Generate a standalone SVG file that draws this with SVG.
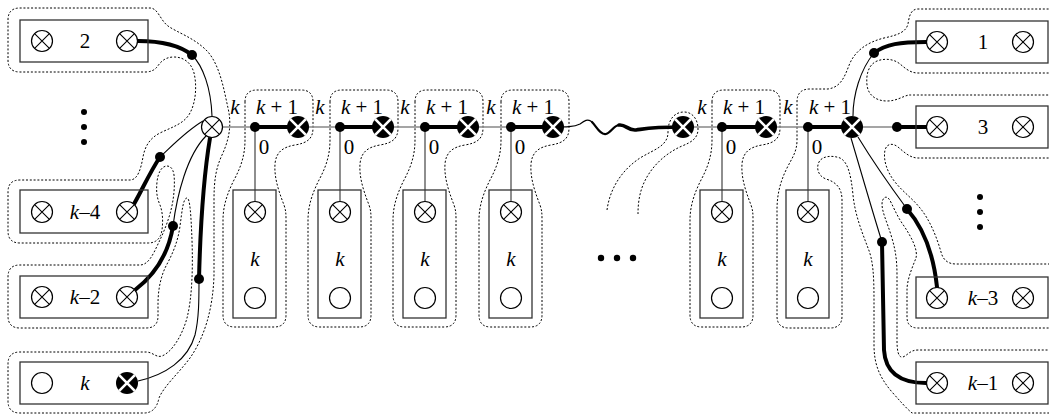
<svg xmlns="http://www.w3.org/2000/svg" xmlns:xlink="http://www.w3.org/1999/xlink" width="1049" height="414" viewBox="0 0 1049 414">
  <style>
    .box{fill:none;stroke:#333;stroke-width:1.3}
    .thin{fill:none;stroke:#000;stroke-width:1.1}
    .thick{fill:none;stroke:#000;stroke-width:4;stroke-linecap:round}
    .gray{fill:none;stroke:#888;stroke-width:1.5}
    .vert{fill:none;stroke:#444;stroke-width:1.2}
    .out{fill:none;stroke:#000;stroke-width:1;stroke-dasharray:2 1.8}
    .dot{fill:#000}
    text{font-family:"Liberation Serif","Times New Roman",serif;font-size:21px;text-anchor:middle;fill:#000}
    .i{font-style:italic}
  </style>
  <defs>
    <g id="ot"><circle r="10.5" fill="#fff" stroke="#000" stroke-width="1.2"/><path d="M-7.4,-7.4L7.4,7.4M7.4,-7.4L-7.4,7.4" stroke="#000" stroke-width="1.1"/></g>
    <g id="bx"><circle r="11" fill="#000"/><path d="M-7.8,-7.8L7.8,7.8M7.8,-7.8L-7.8,7.8" stroke="#fff" stroke-width="2.6"/></g>
    <g id="oc"><circle r="10.5" fill="#fff" stroke="#000" stroke-width="1.2"/></g>
    <path id="unitOut" d="M-10,102 Q-10,90 2,90 H46 Q58,90 58,102 V128 C58,139 52,143 40,145 C28,147 21,152 20,164 C19,178 24,192 29,205 C31,211 31,214 31,220 V315 Q31,327 19,327 H-20 Q-32,327 -32,315 V220 C-32,205 -27,192 -21,180 C-14,167 -10,155 -10,140 Z"/>
  </defs>
  <rect width="1049" height="414" fill="#fff"/>

  <!-- dotted gadget boundaries -->
  <g id="outlines" class="out">
    <path d="M8,20 Q8,8 20,8 H150 C158,8 160,20 168,26 C178,33 195,38 208,52 C220,66 224,90 228,108 C232,125 229,140 222,155 C216,168 214,180 214,200 L214,275 C213,310 204,338 190,358 C178,374 164,386 159,398 Q156,413 144,413 H20 Q8,413 8,401 V364 Q8,352 20,352 H146 C153,352 156,358 162,356 C172,352 182,336 187,318 C192,298 193,270 192,240 C191,215 190,198 187,198 C183,198 182,212 180,226 C178,242 172,255 166,266 C160,278 158,292 158,304 V316 Q158,328 146,328 H20 Q8,328 8,316 V277 Q8,265 20,265 H140 C148,265 153,255 158,244 C163,234 168,222 171,210 C174,198 175,185 174,175 C173,168 170,166 167,166 C162,166 158,172 157,182 C156,192 157,198 160,205 C163,213 163,222 162,230 Q160,243 148,243 H20 Q8,243 8,231 V192 Q8,180 20,180 H130 C138,180 141,168 143,157 C145,146 150,138 160,133 C172,127 184,124 190,113 C196,102 197,85 194,73 C191,62 183,57 174,57 C164,57 160,63 157,67 Q153,72 145,72 H20 Q8,72 8,60 Z"/>
    <use xlink:href="#unitOut" x="255" y="0"/>
    <use xlink:href="#unitOut" x="340" y="0"/>
    <use xlink:href="#unitOut" x="425" y="0"/>
    <use xlink:href="#unitOut" x="511" y="0"/>
    <use xlink:href="#unitOut" x="722" y="0"/>
    <path d="M607,210 C610,188 622,170 640,158 C655,149 668,146 668,132 C668,119 675,112 684,112 C693,112 698,120 698,129 C698,138 692,142 682,146 C664,154 650,168 643,185 C639,195 638,205 638,214"/>
    <path d="M1060,9 H918 C910,9 909,18 908,24 C906,32 898,35 884,38 C868,42 856,50 850,63 C845,75 842,87 828,89 H810 Q797,89 797,102 V140 C797,152 792,158 787,168 C780,182 777,195 777,210 V316 Q777,328 789,328 H830 Q842,328 842,316 V200 C842,188 836,182 826,179 C818,176 816,168 819,162 C822,156 832,155 840,158 C848,162 851,175 853,195 C855,215 862,232 868,248 C873,260 874,275 874,300 V345 C874,365 880,378 892,392 C900,401 906,408 912,413 H1060"/>
    <path d="M1060,73 H918 C910,73 905,68 900,64 C894,59 885,58 877,61 C868,65 866,75 867,85 C868,95 876,101 887,101 C897,101 903,96 909,95 Q912,95 918,95 H1060"/>
    <path d="M1060,158 H918 C910,158 904,152 898,147 C893,143 887,143 885,150 C883,160 887,172 895,182 C903,192 912,198 920,208 C930,220 937,238 941,252 C943,260 948,264 956,264 H1060"/>
    <path d="M1060,328 H918 Q907,328 907,317 V290 C907,280 912,268 916,258 C918,250 912,238 904,226 C896,215 892,203 889,199 C886,195 882,198 882,204 C882,212 887,222 891,235 C895,248 897,258 897,275 V340 C897,350 898,358 903,357 C908,355 910,350 918,350 H1060"/>
  </g>

  <!-- connectors -->
  <g id="connectors">
    <path class="gray" d="M212,127 H255 M298,127 H340 M383,127 H425 M468,127 H511 M683,127 H722 M766,127 H808 M852,127 H897"/>
    <path class="vert" d="M255,127 V201 M340,127 V201 M425,127 V201 M511,127 V201 M722,127 V201 M808,127 V201"/>
    <path class="thick" d="M255,127 H298 M340,127 H383 M425,127 H468 M511,127 H553 M722,127 H766 M808,127 H852 M897,127 H926"/>
    <!-- wavy continuation of the chain -->
    <path class="thin" stroke-width="1.2" d="M553,127 C566,127 574,127 580,124 C584,121 588,118 592,122"/>
    <path fill="none" stroke="#000" stroke-width="2.2" stroke-linecap="round" d="M592,122 C597,127 600,135 606,134 C611,133 613,126 619,125"/>
    <path fill="none" stroke="#000" stroke-width="3.6" stroke-linecap="round" d="M619,125 C626,124 628,131 636,130 C644,129 650,127 683,127"/>
    <!-- left star -->
    <path class="thick" d="M138,41 C158,41 178,44 192,55"/>
    <path class="thin" d="M192,55 C203,66 211,88 212,116"/>
    <path class="thick" d="M134,204 C142,190 150,172 160,157"/>
    <path class="thin" d="M160,157 C172,146 186,131 203,121"/>
    <path class="thick" d="M135,290 C152,277 168,257 173,226"/>
    <path class="thin" d="M173,226 C177,195 187,155 206,136"/>
    <path class="thin" d="M138,381 C165,375 188,360 195,335 C199,318 199,300 199,279"/>
    <path class="thick" d="M199,279 C200,240 203,180 210,138"/>
    <!-- right star -->
    <path class="thin" d="M853,116 C853,95 860,70 874,53"/>
    <path class="thick" d="M874,53 C886,44 900,42 926,42"/>
    <path class="thin" d="M858,137 C872,160 893,190 907,209"/>
    <path class="thick" d="M907,209 C922,226 933,250 937,287"/>
    <path class="thin" d="M851,138 C862,175 872,210 882,242"/>
    <path class="thick" d="M882,242 L884,350 Q886,383 926,383"/>
  </g>

  <!-- junction dots -->
  <g id="junctions" class="dot">
    <circle cx="192" cy="55" r="5"/><circle cx="160" cy="157" r="5"/><circle cx="173" cy="226" r="5"/><circle cx="199" cy="279" r="5"/>
    <circle cx="255" cy="127" r="5"/><circle cx="340" cy="127" r="5"/><circle cx="425" cy="127" r="5"/><circle cx="511" cy="127" r="5"/><circle cx="722" cy="127" r="5"/><circle cx="808" cy="127" r="5"/>
    <circle cx="897" cy="127" r="5"/><circle cx="874" cy="53" r="5"/><circle cx="907" cy="209" r="5"/><circle cx="882" cy="242" r="5"/>
  </g>

  <!-- hubs and chain crossings -->
  <g id="hub-left"><use xlink:href="#ot" x="212" y="127"/></g>
  <g id="chain">
    <use xlink:href="#bx" x="298" y="127"/><use xlink:href="#bx" x="383" y="127"/><use xlink:href="#bx" x="468" y="127"/><use xlink:href="#bx" x="553" y="127"/>
    <use xlink:href="#bx" x="683" y="127"/><use xlink:href="#bx" x="766" y="127"/>
  </g>
  <g id="hub-right"><use xlink:href="#bx" x="852" y="127"/></g>

  <!-- chain labels -->
  <g id="chain-labels" font-family="Liberation Serif, serif">
    <text class="i" x="235" y="114">k</text><text x="277" y="114"><tspan class="i">k</tspan> + 1</text><text x="264" y="154">0</text>
    <text class="i" x="320" y="114">k</text><text x="362" y="114"><tspan class="i">k</tspan> + 1</text><text x="349" y="154">0</text>
    <text class="i" x="405" y="114">k</text><text x="447" y="114"><tspan class="i">k</tspan> + 1</text><text x="434" y="154">0</text>
    <text class="i" x="491" y="114">k</text><text x="533" y="114"><tspan class="i">k</tspan> + 1</text><text x="520" y="154">0</text>
    <text class="i" x="702" y="114">k</text><text x="744" y="114"><tspan class="i">k</tspan> + 1</text><text x="731" y="154">0</text>
    <text class="i" x="788" y="114">k</text><text x="830" y="114"><tspan class="i">k</tspan> + 1</text><text x="817" y="154">0</text>
  </g>

  <!-- vertical unit boxes -->
  <g id="unit-1"><rect class="box" x="233" y="190" width="43" height="128"/><use xlink:href="#ot" x="255" y="212"/><text class="i" x="255" y="266">k</text><use xlink:href="#oc" x="255" y="298"/></g>
  <g id="unit-2"><rect class="box" x="318" y="190" width="43" height="128"/><use xlink:href="#ot" x="340" y="212"/><text class="i" x="340" y="266">k</text><use xlink:href="#oc" x="340" y="298"/></g>
  <g id="unit-3"><rect class="box" x="403" y="190" width="43" height="128"/><use xlink:href="#ot" x="425" y="212"/><text class="i" x="425" y="266">k</text><use xlink:href="#oc" x="425" y="298"/></g>
  <g id="unit-4"><rect class="box" x="489" y="190" width="43" height="128"/><use xlink:href="#ot" x="511" y="212"/><text class="i" x="511" y="266">k</text><use xlink:href="#oc" x="511" y="298"/></g>
  <g id="unit-5"><rect class="box" x="700" y="190" width="43" height="128"/><use xlink:href="#ot" x="722" y="212"/><text class="i" x="722" y="266">k</text><use xlink:href="#oc" x="722" y="298"/></g>
  <g id="unit-6"><rect class="box" x="786" y="190" width="43" height="128"/><use xlink:href="#ot" x="808" y="212"/><text class="i" x="808" y="266">k</text><use xlink:href="#oc" x="808" y="298"/></g>

  <!-- left boxes -->
  <g id="box-2"><rect class="box" x="20" y="20" width="128" height="42"/><use xlink:href="#ot" x="42" y="41"/><text x="85" y="48">2</text><use xlink:href="#ot" x="127" y="41"/></g>
  <g id="box-k4"><rect class="box" x="20" y="190" width="128" height="43"/><use xlink:href="#ot" x="42" y="212"/><text x="85" y="219"><tspan class="i">k</tspan>–4</text><use xlink:href="#ot" x="127" y="212"/></g>
  <g id="box-k2"><rect class="box" x="20" y="276" width="128" height="42"/><use xlink:href="#ot" x="42" y="297"/><text x="85" y="304"><tspan class="i">k</tspan>–2</text><use xlink:href="#ot" x="127" y="297"/></g>
  <g id="box-k"><rect class="box" x="20" y="362" width="128" height="42"/><use xlink:href="#oc" x="42" y="383"/><text class="i" x="85" y="390">k</text><use xlink:href="#bx" x="127" y="383"/></g>

  <!-- right boxes -->
  <g id="box-1"><rect class="box" x="916" y="21" width="132" height="42"/><use xlink:href="#ot" x="937" y="42"/><text x="983" y="49">1</text><use xlink:href="#ot" x="1023" y="42"/></g>
  <g id="box-3"><rect class="box" x="916" y="106" width="132" height="42"/><use xlink:href="#ot" x="937" y="127"/><text x="983" y="134">3</text><use xlink:href="#ot" x="1023" y="127"/></g>
  <g id="box-k3"><rect class="box" x="916" y="277" width="132" height="41"/><use xlink:href="#ot" x="937" y="298"/><text x="983" y="305"><tspan class="i">k</tspan>–3</text><use xlink:href="#ot" x="1023" y="298"/></g>
  <g id="box-k1"><rect class="box" x="916" y="362" width="132" height="42"/><use xlink:href="#ot" x="937" y="383"/><text x="983" y="390"><tspan class="i">k</tspan>–1</text><use xlink:href="#ot" x="1023" y="383"/></g>

  <!-- ellipses -->
  <g id="ellipses" class="dot">
    <circle cx="84" cy="112" r="3"/><circle cx="84" cy="127" r="3"/><circle cx="84" cy="142" r="3"/>
    <circle cx="980" cy="197" r="3"/><circle cx="980" cy="212" r="3"/><circle cx="980" cy="227" r="3"/>
    <circle cx="601" cy="258" r="3.2"/><circle cx="617" cy="258" r="3.2"/><circle cx="633" cy="258" r="3.2"/>
  </g>
</svg>
